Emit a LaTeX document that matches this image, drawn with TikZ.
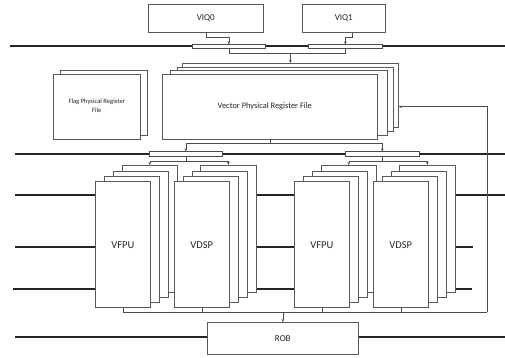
\documentclass[tikz,border=0pt]{standalone}
\usepackage{fontspec}
\setmainfont{Carlito}
\usetikzlibrary{arrows.meta,calc}

\tikzset{
  box/.style={draw=black!65, fill=white, line width=0.6pt, inner sep=0pt, anchor=north west},
  muxbar/.style={draw=black!70, fill=white, line width=0.6pt, inner sep=0pt, anchor=north west},
  bus/.style={draw=black!85, line width=1.4pt},
  wire/.style={draw=black!70, line width=0.6pt},
  arr/.style={wire, -{Stealth[length=3pt,width=2.6pt]}},
  lbl/.style={text=black!85, font=\fontsize{9}{10}\selectfont},
  unitlbl/.style={text=black!85, font=\fontsize{10.5}{12}\selectfont},
}

% place a box by its corners in pixel units (y grows downwards)
\newcommand{\pbox}[6][box]{%
  \node[#1, minimum width=#4pt-#2pt, minimum height=#5pt-#3pt] (#6) at (#2,-#3) {};}

\begin{document}
\begin{tikzpicture}[x=1pt,y=1pt]
\useasboundingbox (0,0) rectangle (505,-358);

% ---------- horizontal buses ----------
\coordinate (b1L) at (10,-46);   \coordinate (b1R) at (505,-46);
\coordinate (b2L) at (15,-154);  \coordinate (b2R) at (505,-154);
\coordinate (b3L) at (15,-195);  \coordinate (b3R) at (505,-195);
\coordinate (b4L) at (15,-247);  \coordinate (b4R) at (473,-247);
\coordinate (b5L) at (13,-289);  \coordinate (b5R) at (472,-289);
\coordinate (b6L) at (15,-337);  \coordinate (b6R) at (505,-337);
\draw[bus] (b1L) -- (b1R);
\draw[bus] (b2L) -- (b2R);

% ---------- issue queues ----------
\pbox{148}{4}{263}{32}{viq0}
\pbox{302}{4}{385}{32}{viq1}
\node[lbl] at (viq0.center) {VIQ0};
\node[lbl] at (viq1.center) {VIQ1};

% ---------- read muxes on the top bus ----------
\pbox[muxbar]{192}{44.5}{265}{48}{mux1a}
\pbox[muxbar]{308}{44.5}{382}{48}{mux1b}
\draw[arr] (viq0.south) -- ++(0,-5) -| (mux1a.north);
\draw[arr] ([xshift=8pt]viq1.south) -- ++(0,-5) -| (mux1b.north);

% ---------- flag register file ----------
\pbox{60}{70}{147}{135}{flag1}
\pbox{53}{74}{140}{139}{flag0}
\node[text=black!85, font=\fontsize{6.6}{8.5}\selectfont, align=center] at ($(flag0.center)+(0,1)$) {Flag Physical Register\\File};

% ---------- vector register file (stacked) ----------
\pbox{182}{63}{398}{127}{vprf3}
\pbox{177}{67}{393}{131}{vprf2}
\pbox{170}{70}{387}{135}{vprf1}
\pbox{162}{74}{377}{139}{vprf0}
\node[text=black!85, font=\fontsize{8.4}{10}\selectfont] at ($(vprf0.center)+(-5,0)$) {Vector Physical Register File};

\draw[wire] (mux1a.south) -- ++(0,-5) coordinate (j1) -| (mux1b.south);
\draw[arr] (vprf3.north |- j1) -- (vprf3.north);

% ---------- muxes on the second bus ----------
\pbox[muxbar]{149}{151.5}{222}{156}{mux2a}
\pbox[muxbar]{345}{151.5}{419}{156}{mux2b}
\draw[wire] (vprf0.south) -- ++(0,-4) coordinate (j2);
\draw[arr] (j2) -| (mux2a.north);
\draw[arr] (j2) -| (mux2b.north);

% ---------- buses between the units ----------
\draw[bus] (b3L) -- (b3L -| 95,0);
\draw[bus] (b4L) -- (b4L -| 95,0);
\draw[bus] (b5L) -- (b5L -| 95,0);
\draw[bus] (256,-195) -- (294,-195);
\draw[bus] (256,-247) -- (294,-247);
\draw[bus] (256,-289) -- (294,-289);
\draw[bus] (455,-195) -- (b3R);
\draw[bus] (455,-247) -- (b4R);
\draw[bus] (455,-289) -- (b5R);
\draw[bus] (b6L) -- (b6R);

% ---------- execution units, left cluster ----------
\pbox{122}{165}{177}{292}{fpuA3}
\pbox{113}{171}{168}{297}{fpuA2}
\pbox{104}{176}{159}{302}{fpuA1}
\pbox{95}{181}{150}{307}{fpuA0}
\pbox{200}{165}{256}{292}{dspA3}
\pbox{192}{171}{247}{297}{dspA2}
\pbox{183}{176}{238}{302}{dspA1}
\pbox{174}{181}{229}{307}{dspA0}
\node[unitlbl] at ($(fpuA0.center)+(0,-1)$) {VFPU};
\node[unitlbl] at ($(dspA0.center)+(0,-1)$) {VDSP};

% ---------- execution units, right cluster ----------
\pbox{321}{165}{376}{292}{fpuB3}
\pbox{312}{171}{367}{297}{fpuB2}
\pbox{303}{176}{358}{302}{fpuB1}
\pbox{294}{181}{349}{307}{fpuB0}
\pbox{399}{165}{455}{292}{dspB3}
\pbox{391}{171}{446}{297}{dspB2}
\pbox{382}{176}{437}{302}{dspB1}
\pbox{373}{181}{428}{307}{dspB0}
\node[unitlbl] at ($(fpuB0.center)+(0,-1)$) {VFPU};
\node[unitlbl] at ($(dspB0.center)+(0,-1)$) {VDSP};

% ---------- operand distribution ----------
\draw[wire] (mux2a.south) -- ++(0,-5) coordinate (j3);
\draw[arr] (j3) -| (fpuA3.north);
\draw[arr] (j3) -| (dspA3.north);
\draw[wire] (mux2b.south) -- ++(0,-5) coordinate (j4);
\draw[arr] (j4) -| (fpuB3.north);
\draw[arr] (j4) -| (dspB3.north);

% ---------- reorder buffer ----------
\pbox{207}{322}{358}{354}{rob}
\node[lbl] at (rob.center) {ROB};

% ---------- result collection and write-back ----------
\coordinate (fb) at (487,-312);
\draw[wire] (fpuA0.south) -- (fpuA0.south |- fb) -- (fb);
\draw[wire] (dspA0.south) -- (dspA0.south |- fb);
\draw[wire] (fpuB0.south) -- (fpuB0.south |- fb);
\draw[wire] (dspB0.south) -- (dspB0.south |- fb);
\draw[arr] (rob.north |- fb) -- (rob.north);
\draw[arr] (fb) |- (vprf3.east |- vprf0.center);

\end{tikzpicture}
\end{document}
